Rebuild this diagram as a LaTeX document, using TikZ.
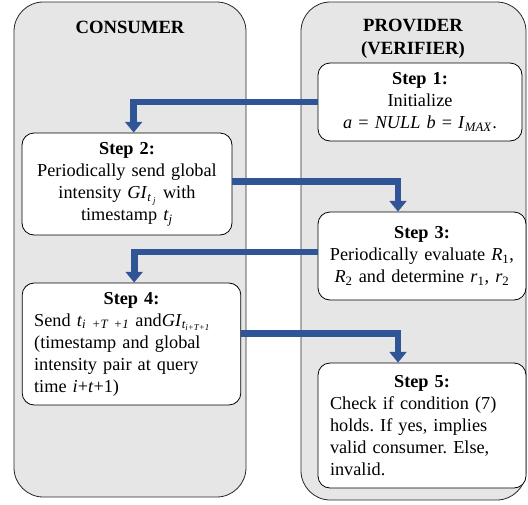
\documentclass[tikz,border=0pt]{standalone}
\usepackage{fontspec}
\setmainfont{Liberation Serif}
\usetikzlibrary{arrows.meta}
\definecolor{flowblue}{HTML}{2F5597}
\definecolor{lanegray}{HTML}{E6E6E6}
\def\iv#1{\textit{#1}}
\def\sub#1{\textsubscript{\textit{#1}}}
\frenchspacing

\begin{document}
\begin{tikzpicture}[x=0.75pt,y=-0.75pt,
    lane/.style={draw=black!85,fill=lanegray,rounded corners=22pt,line width=0.6pt},
    head/.style={font=\fontsize{14}{17}\selectfont\bfseries,align=center},
    stepbox/.style={draw,fill=white,rounded corners=9pt,line width=0.6pt,
        inner xsep=9pt,inner ysep=0pt,font=\fontsize{13.7}{16.5}\selectfont},
    flow/.style={draw=flowblue,line width=5.2pt,-{Triangle[width=12.5pt,length=8pt]}}]
\useasboundingbox (0,0) rectangle (528,504);
% swim lanes
\draw[lane] (14,2) rectangle (246,497);
\draw[lane] (301,2) rectangle (526,500);
\node[head] (cons) at (130,27) {CONSUMER};
\node[head] (prov) at (413,39) {PROVIDER\\(VERIFIER)};
% steps
\node[stepbox,text width=135pt,minimum height=58.5pt,align=center] (s1) at (420,102)
    {\textbf{Step 1:}\\ Initialize\\ \iv{a} = \iv{NULL b} = \iv{I}\sub{MAX}.};
\node[stepbox,text width=139.5pt,minimum height=76.5pt,align=center] (s2) at (127,184)
    {\textbf{Step 2:}\\ Periodically send global\\ intensity \iv{GI}\sub{t\,\textsubscript{j}} with\\ timestamp \iv{t}\sub{j}};
\node[stepbox,text width=150pt,inner xsep=3pt,minimum height=66pt,align=center] (s3) at (422,256)
    {\textbf{Step 3:}\\ Periodically evaluate \iv{R}\textsubscript{1},\\ \iv{R}\textsubscript{2} and determine \iv{r}\textsubscript{1}, \iv{r}\textsubscript{2}};
\node[stepbox,text width=146pt,minimum height=91.5pt,align=left] (s4) at (131.5,344)
    {\centering\textbf{Step 4:}\par\raggedright
     Send \iv{t}\sub{i +T +1} and\iv{GI}\sub{t\textsubscript{i+T+1}}\\ (timestamp and global\\ intensity pair at query\\ time \iv{i}+\iv{t}+1)};
\node[stepbox,text width=138pt,minimum height=93.75pt,align=left] (s5) at (422,425.5)
    {\centering\textbf{Step 5:}\par\raggedright
     Check if condition (7)\\ holds. If yes, implies\\ valid consumer. Else,\\ invalid.};
% hand-offs
\draw[flow] (s1.west) -| ([xshift=5pt]s2.north);
\draw[flow] ([yshift=2pt]s2.east) -| ([xshift=-18pt]s3.north);
\draw[flow] ([yshift=3pt]s3.west) -| ([xshift=2pt]s4.north);
\draw[flow] ([yshift=8pt]s4.east) -| ([xshift=-18pt]s5.north);
\end{tikzpicture}
\end{document}
